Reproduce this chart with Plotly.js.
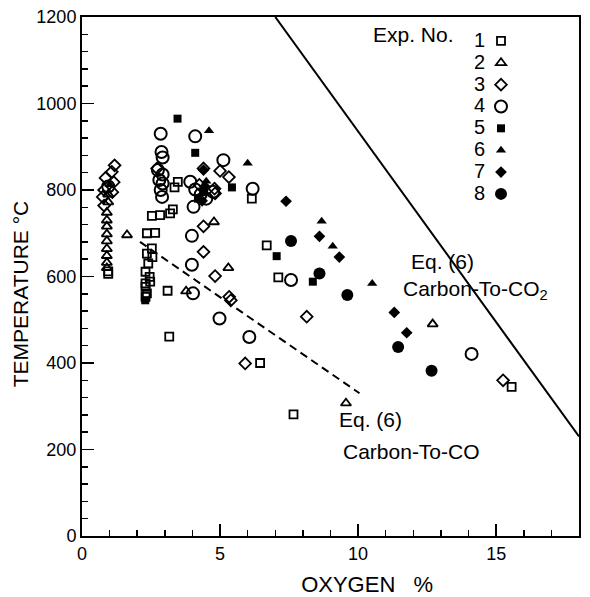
<!DOCTYPE html>
<html>
<head>
<meta charset="utf-8">
<script src="https://cdn.plot.ly/plotly-3.0.1.min.js"></script>
<style>html,body{margin:0;padding:0;background:#fff;}#chart{width:590px;height:597px;}</style>
</head>
<body>
<div id="chart"></div>
<script>
// ---- data ----
const expLabels = ["1","2","3","4","5","6","7","8"];

const exp1_x = [0.95,0.95, 2.35,2.65,2.53,2.35,2.55,2.4,2.3,2.45,2.47,2.3,2.3,2.35,2.3, 2.53,2.83,3.19,3.29, 3.10,3.16, 3.35,3.47, 6.15,6.69,7.11,6.45,7.66,15.56];
const exp1_y = [612,606, 700,701,665,653,645,630,611,599,588,584,576,561,553, 740,742,746,755, 567,461, 806,819, 780,672,598,400,281,345];

const exp2_x = [0.95,0.95,0.9,0.9,0.9,0.9,0.9,0.9,0.9,0.9,0.9, 1.63,4.78,5.30,3.77,9.56,12.70];
const exp2_y = [790,772,748,730,716,698,682,664,648,632,620, 696,726,620,566,307,490];

const exp3_x = [1.18,1.08,0.85,1.15,0.8,1.1,0.75,0.8, 2.72, 4.40,4.8,4.82,4.25, 5.0,5.32, 4.40,4.40,4.82,5.33,5.39,5.91,8.14,15.25];
const exp3_y = [857,842,828,818,800,795,784,764, 850, 850,803,792,812, 844,830, 716,657,601,553,545,399,507,360];

const exp4_x = [0.95, 2.85,2.88,2.92,2.75,2.92,2.8,2.92,2.85,2.9, 4.10,3.92,4.1,4.3,4.04,4.75,4.5, 5.12,6.18, 3.98,3.98,4.02,4.98,6.06,7.57,14.11];
const exp4_y = [808, 930,888,875,846,836,823,815,800,784, 924,819,801,790,761,796,780, 869,803, 694,627,561,503,460,592,421];

const exp5_x = [3.46,4.10,5.43,2.29,7.05,8.36,4.4,4.2];
const exp5_y = [965,886,806,545,647,588,795,780];

const exp6_x = [4.60,6.0,8.68,9.08,10.51,1.0,4.5];
const exp6_y = [937,862,728,670,584,812,820];

const exp7_x = [7.39,8.6,9.32,11.31,11.76,4.4,4.45,4.35];
const exp7_y = [774,693,645,517,470,846,808,775];

const exp8_x = [7.57,8.6,9.61,11.45,12.66];
const exp8_y = [682,607,557,437,382];

const co2Line_x = [7.0, 18];
const co2Line_y = [1200, 230];
const coLine_x = [2.1, 10.05];
const coLine_y = [680, 330];

const xRange = [0, 18];
const yRange = [0, 1200];

// ---- styles ----
const FONT = '"Liberation Sans", Arial, Helvetica, sans-serif';
function mk(x, y, name, symbol, size, lw) {
  return {x: x, y: y, name: name, type: 'scatter', mode: 'markers',
    marker: {symbol: symbol, size: size, color: '#000', line: {color: '#000', width: lw}},
    hoverinfo: 'x+y'};
}
const traces = [
  {x: co2Line_x, y: co2Line_y, type: 'scatter', mode: 'lines', line: {color: '#000', width: 2}, showlegend: false, hoverinfo: 'skip'},
  {x: coLine_x, y: coLine_y, type: 'scatter', mode: 'lines', line: {color: '#000', width: 2, dash: '8px,5px'}, showlegend: false, hoverinfo: 'skip'},
  mk(exp1_x, exp1_y, '', 'square-open', 8, 1.8),
  mk(exp2_x, exp2_y, '', 'triangle-up-open', 9, 1.8),
  mk(exp3_x, exp3_y, '', 'diamond-open', 9, 1.8),
  mk(exp4_x, exp4_y, '', 'circle-open', 12, 2),
  mk(exp5_x, exp5_y, '', 'square', 8, 0),
  mk(exp6_x, exp6_y, '', 'triangle-up', 9, 0),
  mk(exp7_x, exp7_y, '', 'diamond', 9, 0),
  mk(exp8_x, exp8_y, '', 'circle', 12, 0)
];

// plot area in pixels
const L = 82, R = 11, T = 17, B = 61, W = 590, H = 597;
const pw = W - L - R, ph = H - T - B;
function px2paperX(px) { return (px - L) / pw; }
function px2paperY(py) { return (H - B - py) / ph; }

function ann(text, px, py, anchor, size) {
  return {text: text, x: px2paperX(px), y: px2paperY(py), xref: 'paper', yref: 'paper', showarrow: false,
    xanchor: anchor, yanchor: 'middle', font: {family: FONT, size: size, color: '#000'}};
}
const annotations = [
  ann('Exp. No.', 413, 35, 'center', 21),
  ann('Eq. (6)', 409, 261, 'left', 21),
  ann('Carbon-To-CO<sub>2</sub>', 401, 290, 'left', 21),
  ann('Eq. (6)', 337, 419, 'left', 21),
  ann('Carbon-To-CO', 341, 451, 'left', 21)
];
expLabels.forEach(function (lab, i) {
  annotations.push(ann(lab, 487, 40 + 21.8 * i, 'right', 20));
});

const tickStyle = {ticks: 'inside', ticklen: 12, tickwidth: 1.5, tickcolor: '#000', showgrid: false, zeroline: false};
const minorStyle = {ticks: 'inside', ticklen: 6, tickwidth: 1.5, tickcolor: '#000', showgrid: false};

const layout = {
  width: W, height: H,
  margin: {l: L, r: R, t: T, b: B},
  paper_bgcolor: '#fff', plot_bgcolor: '#fff',
  font: {family: FONT, color: '#000'},
  xaxis: Object.assign({}, tickStyle, {
    range: xRange, tick0: 0, dtick: 5,
    showline: true, linewidth: 2, linecolor: '#000', mirror: true,
    minor: Object.assign({dtick: 1}, minorStyle),
    tickfont: {family: FONT, size: 18, color: '#000'},
    title: {text: '&nbsp;&nbsp;&nbsp;&nbsp;&nbsp;&nbsp;&nbsp;&nbsp;&nbsp;&nbsp;&nbsp;&nbsp;OXYGEN&nbsp;&nbsp;&nbsp;%', font: {family: FONT, size: 22, color: '#000'}, standoff: 15}
  }),
  yaxis: Object.assign({}, tickStyle, {
    range: yRange, tick0: 0, dtick: 200,
    showline: true, linewidth: 2, linecolor: '#000', mirror: true,
    minor: Object.assign({dtick: 40}, minorStyle),
    tickfont: {family: FONT, size: 18, color: '#000'},
    title: {text: 'TEMPERATURE °C&nbsp;&nbsp;&nbsp;&nbsp;&nbsp;&nbsp;', font: {family: FONT, size: 21, color: '#000'}, standoff: 2}
  }),
  xaxis2: Object.assign({}, tickStyle, {
    overlaying: 'x', side: 'top', anchor: 'y', range: xRange, tick0: 0, dtick: 5,
    showline: false, showticklabels: false, minor: Object.assign({dtick: 1}, minorStyle)
  }),
  yaxis2: Object.assign({}, tickStyle, {
    overlaying: 'y', side: 'right', anchor: 'x', range: yRange, tick0: 0, dtick: 200,
    showline: false, showticklabels: false, minor: Object.assign({dtick: 40}, minorStyle)
  }),
  showlegend: true,
  legend: {x: px2paperX(481), y: px2paperY(25), xanchor: 'left', yanchor: 'top',
    bgcolor: 'rgba(0,0,0,0)', borderwidth: 0, font: {family: FONT, size: 14.5, color: '#000'},
    itemwidth: 30, traceorder: 'normal'},
  annotations: annotations
};

Plotly.newPlot('chart', traces, layout, {displayModeBar: false, staticPlot: true});
</script>
</body>
</html>
